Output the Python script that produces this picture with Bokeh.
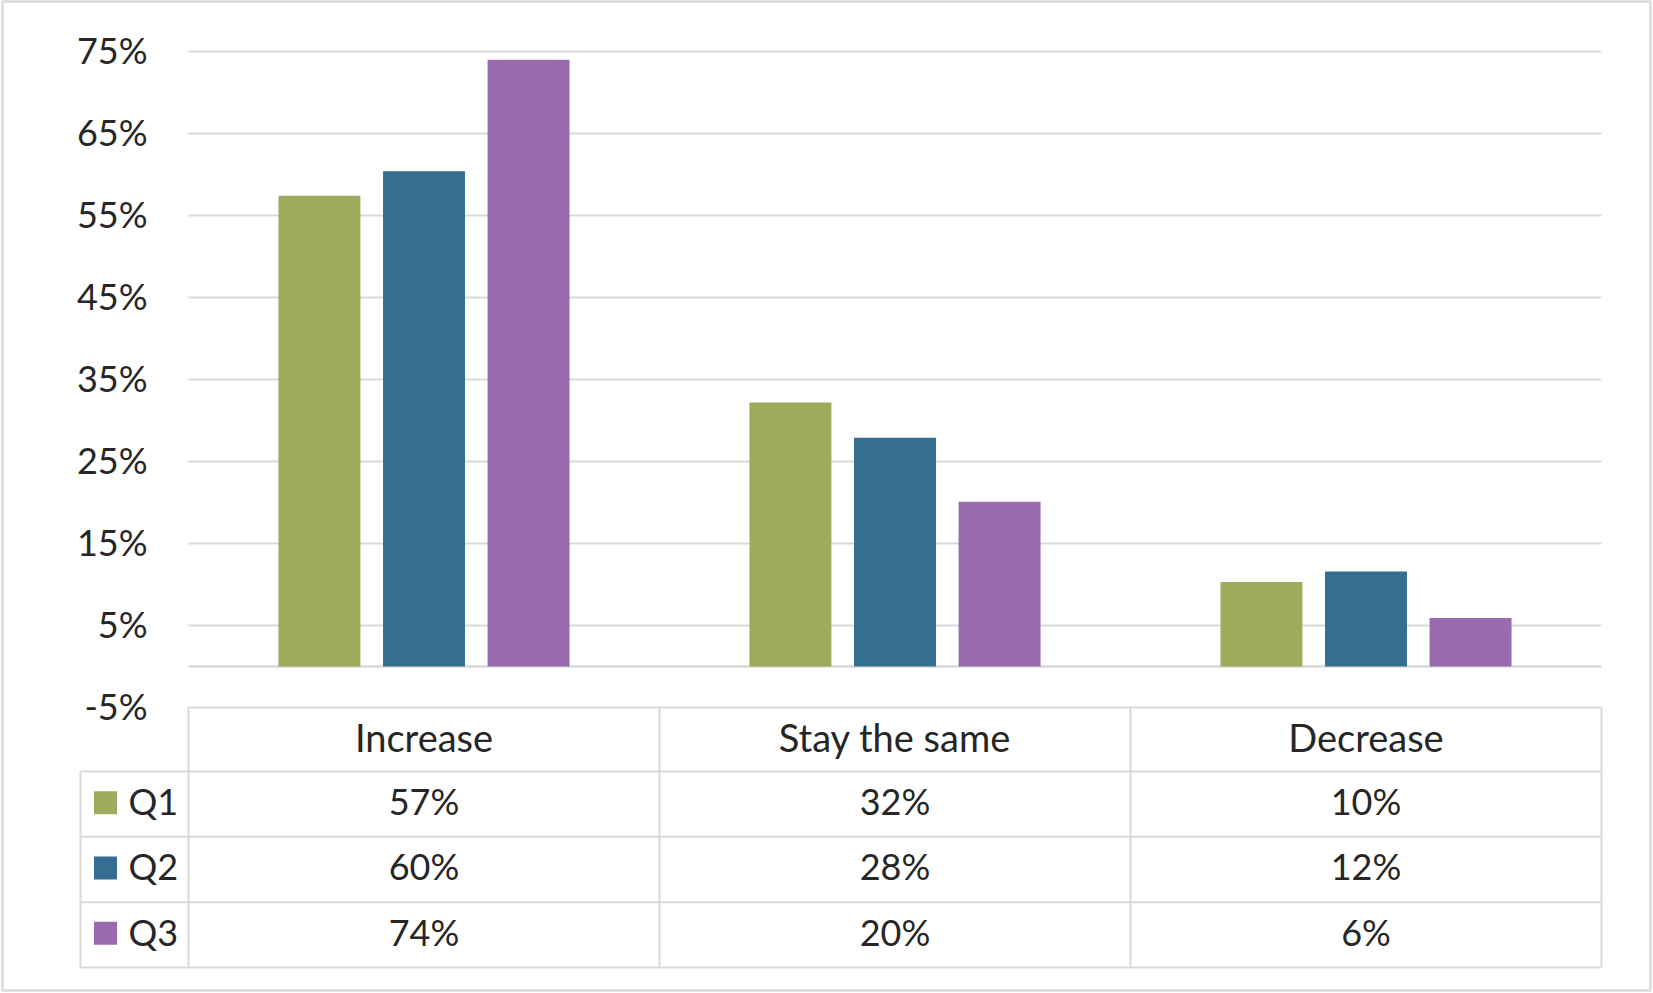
from bokeh.plotting import figure
from bokeh.models import Range1d
from bokeh.core.properties import value
from bokeh.embed import file_html
from bokeh.resources import INLINE

# ---------------- data ----------------
categories = ["Increase", "Stay the same", "Decrease"]
series = ["Q1", "Q2", "Q3"]
q1 = [57.4, 32.2, 10.3]
q2 = [60.4, 27.9, 11.6]
q3 = [74.0, 20.1, 5.9]
y_ticks = [-5, 5, 15, 25, 35, 45, 55, 65, 75]
values = [q1, q2, q3]

# ---------------- style / layout ----------------
colors = ["#9eaa5c", "#346f91", "#9a6aae"]
FONT = value("Lato")
TXT = "#262626"
GRID = "#d9d9d9"
FS_NUM = "36px"
FS_CAT = "38px"
TEXT_DY = -3

W, H = 1652, 992
MB_L, MB_T, MB_R, MB_B = 2, 1, 2, 2
FRAME_W = W - MB_L - MB_R
FRAME_H = H - MB_T - MB_B

PX_PER_CAT = 471.0      # pixels per category column
PLOT_LEFT = 188.0       # pixel x of category 0 edge
PX_PER_PCT = 8.2        # pixels per percentage point
TOP_TICK_PX = 51.0      # pixel y of the top tick
PX_PER_ROW = 65.33      # table row height
TABLE_TOP_PX = 771.0    # pixel y of top of first data row
HEADER_PX = 64.0        # header row height
LEFT_COL_PX = 108.0     # width of legend column

x0 = (MB_L - PLOT_LEFT) / PX_PER_CAT
x1 = x0 + FRAME_W / PX_PER_CAT
top_tick = y_ticks[-1]
y1 = top_tick + (TOP_TICK_PX - MB_T) / PX_PER_PCT
y0 = y1 - FRAME_H / PX_PER_PCT
nrows = len(series)
ty1 = nrows + (TABLE_TOP_PX - MB_T) / PX_PER_ROW
ty0 = ty1 - FRAME_H / PX_PER_ROW

p = figure(width=W, height=H, output_backend="svg", toolbar_location=None,
           x_range=Range1d(x0, x1), y_range=Range1d(y0, y1),
           min_border_left=MB_L, min_border_right=MB_R, min_border_top=MB_T,
           min_border_bottom=MB_B, x_axis_location=None, y_axis_location=None,
           background_fill_color="white", border_fill_color="white")
p.extra_y_ranges = {"table": Range1d(ty0, ty1)}
p.outline_line_color = "#dcdcdc"
p.outline_line_width = 2.5
p.grid.visible = False

n = len(categories)
# gridlines
p.segment(x0=[0] * len(y_ticks), x1=[n] * len(y_ticks), y0=y_ticks, y1=y_ticks,
          line_color=GRID, line_width=2)
# zero (category axis) line
p.segment(x0=[0], x1=[n], y0=[0], y1=[0], line_color="#d2d2d2", line_width=2)
# y tick labels
p.text(x=[0] * len(y_ticks), y=y_ticks, text=[f"{t}%" for t in y_ticks],
       x_offset=-41, y_offset=TEXT_DY + 1, text_font=FONT, text_font_size=FS_NUM,
       text_color=TXT, text_align="right", text_baseline="middle")

# bars
offsets = [-0.222, 0.0, 0.222]
bar_w = 0.174
for vals, c, off in zip(values, colors, offsets):
    xs = [i + 0.5 + off for i in range(n)]
    p.vbar(x=xs, top=vals, bottom=0, width=bar_w, fill_color=c, line_color=None)

# header row of the data table
bottom_pct = y_ticks[0]
header_bottom = bottom_pct - HEADER_PX / PX_PER_PCT
p.segment(x0=list(range(n + 1)), x1=list(range(n + 1)),
          y0=[bottom_pct] * (n + 1), y1=[header_bottom] * (n + 1),
          line_color=GRID, line_width=2)
header_y = bottom_pct - (HEADER_PX / 2) / PX_PER_PCT
p.text(x=[i + 0.5 for i in range(n)], y=[header_y] * n, text=categories,
       y_offset=TEXT_DY, text_font=FONT, text_font_size=FS_CAT, text_color=TXT,
       text_align="center", text_baseline="middle")

# data rows of the table
left_col = -LEFT_COL_PX / PX_PER_CAT
p.segment(x0=[left_col] * (nrows + 1), x1=[n] * (nrows + 1),
          y0=list(range(nrows + 1)), y1=list(range(nrows + 1)),
          line_color=GRID, line_width=2, y_range_name="table")
vx = [left_col] + list(range(n + 1))
p.segment(x0=vx, x1=vx, y0=[0] * len(vx), y1=[nrows] * len(vx),
          line_color=GRID, line_width=2, y_range_name="table")

swatch_x = left_col + 25.0 / PX_PER_CAT
for s, (name, vals, c) in enumerate(zip(series, values, colors)):
    yc = nrows - s - 0.5
    p.scatter(x=[swatch_x], y=[yc + 1.5 / PX_PER_ROW],
              marker="square", size=23, fill_color=c, line_color=None,
              y_range_name="table")
    p.text(x=[left_col], y=[yc], x_offset=48, y_offset=TEXT_DY, text=[name],
           text_font=FONT, text_font_size=FS_NUM, text_color=TXT,
           text_align="left", text_baseline="middle", y_range_name="table")
    p.text(x=[i + 0.5 for i in range(n)], y=[yc] * n, y_offset=TEXT_DY,
           text=[f"{v:.0f}%" for v in vals],
           text_font=FONT, text_font_size=FS_NUM, text_color=TXT,
           text_align="center", text_baseline="middle", y_range_name="table")

open("out.html", "w").write(file_html(p, INLINE))
